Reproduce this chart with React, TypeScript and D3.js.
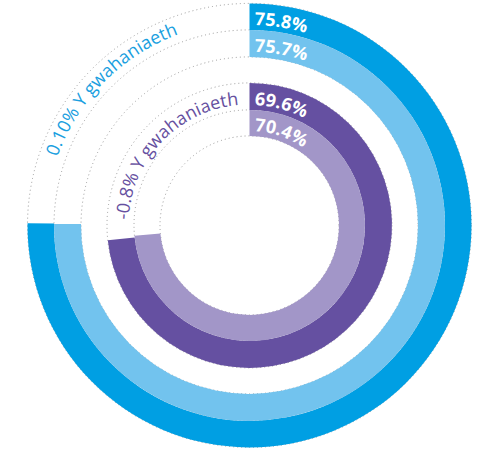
import React from "react";
import * as d3 from "d3";

// ---- data ----
const ringValues = [75.8, 75.7, 69.6, 70.4];
const ringLabels = ["75.8%", "75.7%", "69.6%", "70.4%"];
const diffLabels = ["0.10% Y gwahaniaeth", "-0.8% Y gwahaniaeth"];

// ---- layout / style ----
const W = 482;
const H = 449;
const cx = 249.5;
const cy = 225.4;
const ringRadii: [number, number][] = [
  [195.5, 222],
  [168.5, 195.5],
  [115.5, 142.5],
  [89.5, 115.5],
];
const ringColors = ["#009fe3", "#72c3ee", "#6550a1", "#a296c8"];
const diffColors = ["#1aa0e0", "#6650a0"];
const labelBaseline = [200.5, 173.7, 120.5, 94.5];
const diffBaseline = [204, 121];
const diffStartDeg = [289.6, 272.7];
const dottedRadii = [222, 195.5, 168.5, 142.5, 115.5, 89.5];

const deg = Math.PI / 180;
// value -> end angle (degrees clockwise from 12 o'clock)
const angleScale = d3.scaleLinear().domain([60, 80]).range([253.8, 275.0]);

function arcPath(r: number, a0: number, a1: number) {
  const x0 = r * Math.sin(a0);
  const y0 = -r * Math.cos(a0);
  const x1 = r * Math.sin(a1);
  const y1 = -r * Math.cos(a1);
  const large = a1 - a0 > Math.PI ? 1 : 0;
  return `M${x0},${y0}A${r},${r} 0 ${large} 1 ${x1},${y1}`;
}

export default function App() {
  const arc = d3.arc<any>();
  return (
    <svg
      width={W}
      height={H}
      style={{ position: "absolute", left: 0, top: 0, background: "#fff" }}
      fontFamily="'Open Sans', sans-serif"
    >
      <defs>
        {ringValues.map((_, i) => (
          <path
            key={i}
            id={`lp${i}`}
            d={arcPath(labelBaseline[i], 0, Math.PI)}
          />
        ))}
        {diffLabels.map((_, i) => (
          <path
            key={i}
            id={`dp${i}`}
            d={arcPath(diffBaseline[i], diffStartDeg[i] * deg, (diffStartDeg[i] + 86) * deg)}
          />
        ))}
      </defs>
      <g transform={`translate(${cx},${cy})`}>
        {dottedRadii.map((r, i) => (
          <circle
            key={i}
            r={r}
            fill="none"
            stroke="#9a9a9a"
            strokeWidth={1}
            strokeDasharray="1 3"
          />
        ))}
        {ringValues.map((v, i) => (
          <path
            key={i}
            d={
              arc({
                innerRadius: ringRadii[i][0],
                outerRadius: ringRadii[i][1],
                startAngle: 0,
                endAngle: angleScale(v) * deg,
              }) as string
            }
            fill={ringColors[i]}
          />
        ))}
        {ringLabels.map((t, i) => (
          <text key={i} fill="#fff" fontWeight={700} fontSize={18}>
            <textPath href={`#lp${i}`} startOffset={5}>
              {t}
            </textPath>
          </text>
        ))}
        {diffLabels.map((t, i) => (
          <text key={i} fill={diffColors[i]} fontSize={18}>
            <textPath href={`#dp${i}`}>{t}</textPath>
          </text>
        ))}
      </g>
    </svg>
  );
}
